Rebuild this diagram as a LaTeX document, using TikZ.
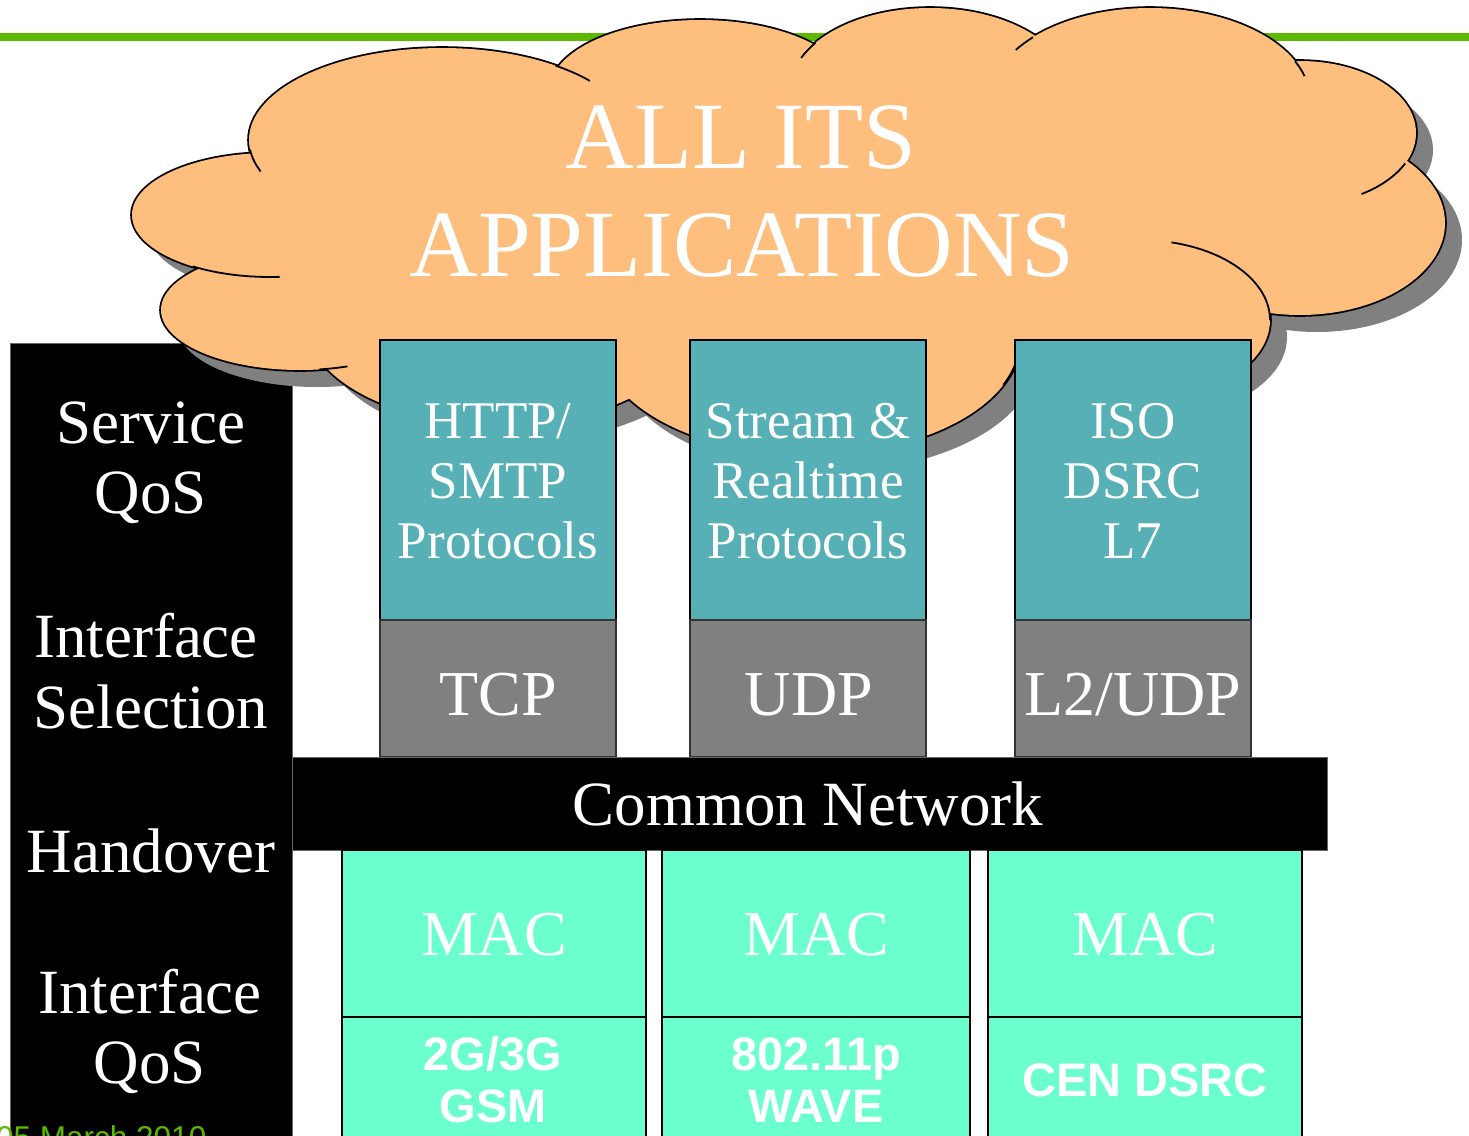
\documentclass[tikz,border=0pt]{standalone}
\usepackage{fontspec}
\setmainfont{Liberation Serif}
\newfontfamily\arialf{Liberation Sans}
\definecolor{itsgreen}{RGB}{92,184,0}
\definecolor{cloudorange}{RGB}{253,190,126}
\definecolor{shadowgray}{RGB}{128,128,128}
\definecolor{tealc}{RGB}{86,176,182}
\definecolor{grayc}{RGB}{128,128,128}
\definecolor{macc}{RGB}{106,255,204}
\def\cloudlist{442/140/193/92, 700/90/150/70, 930/90/140/82, 1150/100/160/92, 1300/133/116/72, 1300/223/145/92, 1140/320/130/80, 810/340/210/115, 500/320/195/105, 300/310/139/60, 270/215/138/62, 750/230/450/170}
\begin{document}
\begin{tikzpicture}[x=1pt,y=-1pt,
  lbl/.style={text=white, inner sep=0pt, anchor=base},
  sidefont/.style={font=\fontsize{63}{70}\selectfont},
  protofont/.style={font=\fontsize{53}{60}\selectfont},
  layerfont/.style={font=\fontsize{64}{70}\selectfont},
  cloudfont/.style={font=\fontsize{95}{100}\selectfont},
  phyfont/.style={font=\arialf\bfseries\fontsize{47}{52}\selectfont},
  tealbox/.style={draw=black, line width=1.5pt, fill=tealc, minimum width=236pt, minimum height=280pt, inner sep=0pt},
  graybox/.style={draw=black!80, line width=1.2pt, fill=grayc, minimum width=236pt, minimum height=137pt, inner sep=0pt},
  macbox/.style={draw=black, line width=1.6pt, fill=macc, inner sep=0pt},
  tick/.style={draw=black, line width=1.8pt}
]
\useasboundingbox (0,0) rectangle (1469,1135);
\clip (0,0) rectangle (1469,1135);
\fill[white] (0,0) rectangle (1469,1135);

% green rule
\draw[line width=8pt, itsgreen] (0,37) -- (1469,37);

% left black panel
\node[draw=black!60, line width=1pt, fill=black, minimum width=282pt, minimum height=807pt, inner sep=0pt] (panel) at (151,746.5) {};

% cloud shadow
\foreach \cx/\cy/\rx/\ry in \cloudlist {
  \fill[shadowgray] (\cx+17,\cy+17) ellipse [x radius=\rx, y radius=\ry];
}
% cloud outline and fill
\foreach \cx/\cy/\rx/\ry in \cloudlist {
  \draw[black, line width=3.6pt] (\cx,\cy) ellipse [x radius=\rx, y radius=\ry];
}
\foreach \cx/\cy/\rx/\ry in \cloudlist {
  \fill[cloudorange] (\cx,\cy) ellipse [x radius=\rx, y radius=\ry];
}
% inner arcs of the cloud
\foreach \cx/\cy/\rx/\ry/\a/\b in {1140/320/130/80/-76/0, 1300/133/116/72/25/58, 442/140/193/92/160/174, 270/215/138/62/86/124, 300/310/139/60/70/82, 442/140/193/92/-54/-40, 930/90/140/82/-157/-145, 1150/100/160/92/-147/-137, 1150/100/160/92/-25/-15, 810/340/210/115/10/23} {
  \draw[tick] ({\cx+\rx*cos(\a)},{\cy+\ry*sin(\a)}) arc[start angle=\a, end angle=\b, x radius=\rx, y radius=\ry];
}
\node[lbl, cloudfont] (allits) at (741,168) {ALL ITS};
\node[lbl, cloudfont] (apps) at (742,276) {APPLICATIONS};

% upper protocol boxes
\node[tealbox] (http) at (498,480) {};
\node[tealbox] (stream) at (808,480) {};
\node[tealbox] (iso) at (1133,480) {};
\node[graybox] (tcp) at (498,688.5) {};
\node[graybox] (udp) at (808,688.5) {};
\node[graybox] (l2udp) at (1133,688.5) {};

\node[lbl, protofont] (http1) at (498,438) {HTTP/};
\node[lbl, protofont] (http2) at (498,498) {SMTP};
\node[lbl, protofont] (http3) at (498,558) {Protocols};
\node[lbl, protofont] (stream1) at (808,438) {Stream \&};
\node[lbl, protofont] (stream2) at (808,498) {Realtime};
\node[lbl, protofont] (stream3) at (808,558) {Protocols};
\node[lbl, protofont] (iso1) at (1133,438) {ISO};
\node[lbl, protofont] (iso2) at (1133,498) {DSRC};
\node[lbl, protofont] (iso3) at (1133,558) {L7};

\node[lbl, layerfont] (tcpt) at (498,715) {TCP};
\node[lbl, layerfont] (udpt) at (809,715) {UDP};
\node[lbl, layerfont] (l2udpt) at (1133,715) {L2/UDP};

% common network bar
\node[draw=black!60, line width=1pt, fill=black, minimum width=1035pt, minimum height=93pt, inner sep=0pt] (common) at (809.5,803.5) {};
\node[lbl, sidefont] (commont) at (808,825) {Common Network};

% MAC and physical boxes
\node[macbox, minimum width=304pt, minimum height=167pt] (mac1) at (494,933.5) {};
\node[macbox, minimum width=308pt, minimum height=167pt] (mac2) at (816,933.5) {};
\node[macbox, minimum width=314pt, minimum height=167pt] (mac3) at (1145,933.5) {};
\node[macbox, minimum width=304pt, minimum height=140pt] (phy1) at (494,1087) {};
\node[macbox, minimum width=308pt, minimum height=140pt] (phy2) at (816,1087) {};
\node[macbox, minimum width=314pt, minimum height=140pt] (phy3) at (1145,1087) {};

\node[lbl, layerfont] (mac1t) at (494,955) {MAC};
\node[lbl, layerfont] (mac2t) at (816,955) {MAC};
\node[lbl, layerfont] (mac3t) at (1145,955) {MAC};
\node[lbl, phyfont] (phy1a) at (493,1070) {2G/3G};
\node[lbl, phyfont] (phy1b) at (493,1122) {GSM};
\node[lbl, phyfont] (phy2a) at (816,1070) {802.11p};
\node[lbl, phyfont] (phy2b) at (816,1122) {WAVE};
\node[lbl, phyfont] (phy3a) at (1145,1096) {CEN DSRC};

% side labels
\node[lbl, sidefont] (svc1) at (151,443) {Service};
\node[lbl, sidefont] (svc2) at (151,513) {QoS};
\node[lbl, sidefont] (sel1) at (146,657) {Interface};
\node[lbl, sidefont] (sel2) at (151,728) {Selection};
\node[lbl, sidefont] (hand) at (151,872) {Handover};
\node[lbl, sidefont] (iqos1) at (150,1013) {Interface};
\node[lbl, sidefont] (iqos2) at (150,1083) {QoS};

% date (cut off at the bottom edge, as in the reference)
\node[inner sep=0pt, anchor=base west, text=itsgreen, font=\arialf\fontsize{31.5}{34}\selectfont] (date) at (-4,1148) {05 March 2010};
\end{tikzpicture}
\end{document}
